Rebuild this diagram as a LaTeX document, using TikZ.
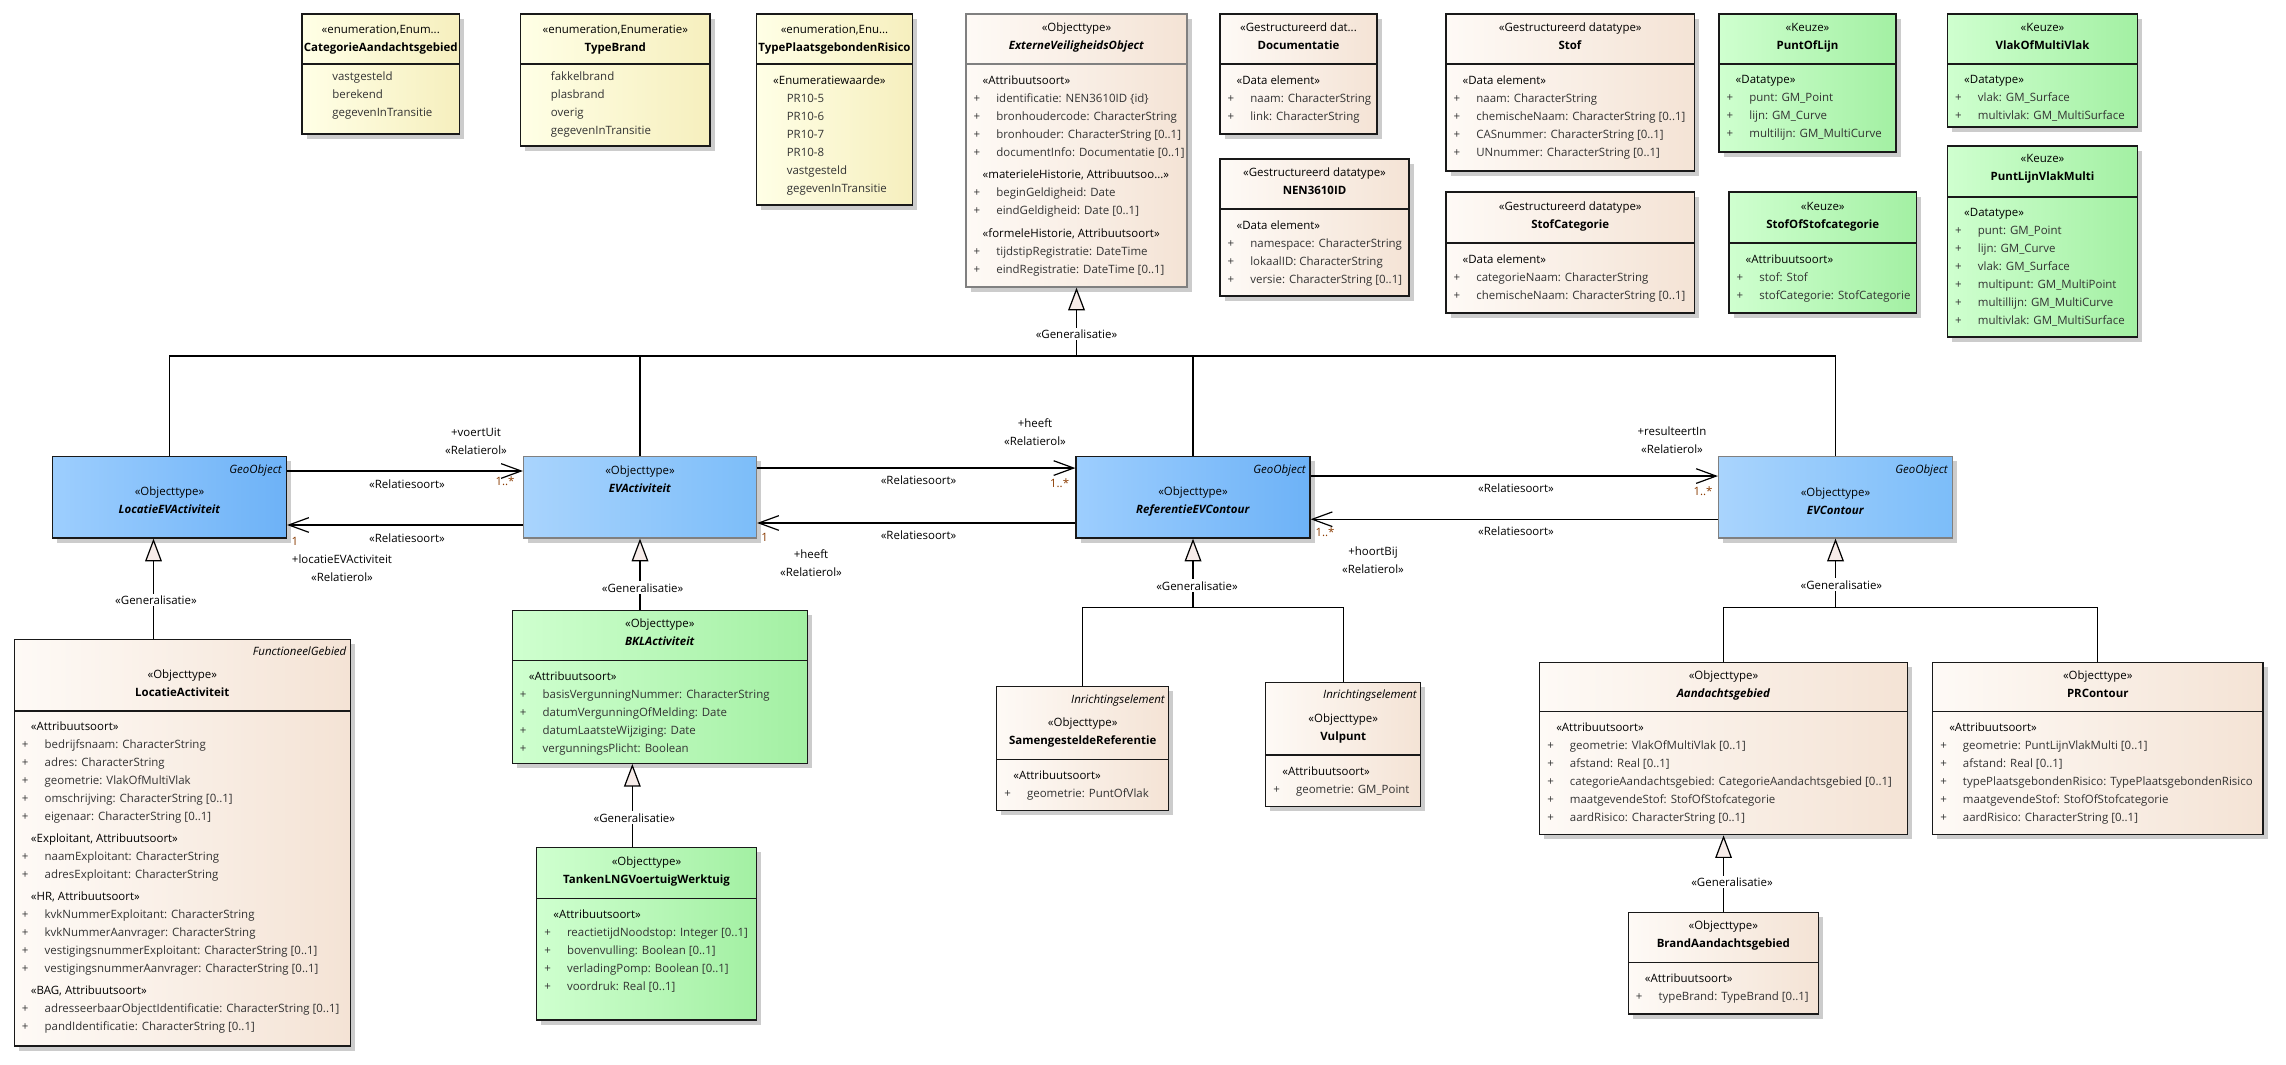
\documentclass[tikz,border=0pt]{standalone}
\usepackage{fontspec}
\setmainfont{Open Sans}
\usetikzlibrary{positioning,arrows.meta,shadows,fit}

\definecolor{creamL}{HTML}{FEFAF6}
\definecolor{creamR}{HTML}{F4E3D5}
\definecolor{enumL}{HTML}{FFFFE6}
\definecolor{enumR}{HTML}{F6EFBE}
\definecolor{greenL}{HTML}{CFFFCF}
\definecolor{greenR}{HTML}{A3F0A3}
\definecolor{geoL}{HTML}{9DCEFE}
\definecolor{geoR}{HTML}{6DB2F7}
\definecolor{abstrL}{HTML}{A9D4FD}
\definecolor{abstrR}{HTML}{7CBDF9}
\definecolor{trifill}{HTML}{F7ECE9}
\definecolor{multcol}{HTML}{8A3B00}

\newcommand{\umlfont}{\fontsize{8.6}{13.5}\selectfont}
\newcommand{\firstline}{\rule{0pt}{9pt}}
\newcommand{\stt}[1]{\hspace*{6.75pt}\textcolor{black}{«#1»}}
\newcommand{\att}[1]{\makebox[17pt][l]{+}#1}
\newcommand{\lit}[1]{\hspace*{17pt}#1}

\begin{document}
\begin{tikzpicture}[x=0.75pt, y=-0.75pt,
    classbox/.style={draw=black!90, line width=0.9pt, inner sep=0pt,
                     general shadow={fill=black!20, shadow xshift=3.5pt, shadow yshift=-3.5pt}},
    cream/.style={classbox, left color=creamL, right color=creamR},
    creamgray/.style={cream, draw=black!50},
    enumbox/.style={classbox, left color=enumL, right color=enumR},
    keuze/.style={classbox, left color=greenL, right color=greenR},
    geobox/.style={classbox, left color=geoL, right color=geoR},
    abstrbox/.style={classbox, draw=black!50, left color=abstrL, right color=abstrR},
    sep/.style={line width=0.9pt, draw=black!90},
    sepgray/.style={line width=0.9pt, draw=black!50},
    head/.style={anchor=north, yshift=9pt, align=center, inner sep=0pt, font=\umlfont,
                 execute at begin node=\firstline},
    body/.style={anchor=north west, yshift=9pt, align=left, inner sep=0pt, font=\umlfont,
                 text=black!80, execute at begin node=\firstline},
    tag/.style={anchor=base east, inner sep=0pt, font=\umlfont\itshape},
    lbl/.style={anchor=north, yshift=9pt, align=center, inner sep=0pt, font=\umlfont,
                execute at begin node=\firstline},
    mult/.style={lbl, text=multcol},
    genlbl/.style={fill=white, inner sep=1.5pt, font=\umlfont},
    conn/.style={line width=0.9pt},
    assoc/.style={line width=0.9pt, -{Straight Barb[length=15pt,width=11pt]}},
    gen/.style={line width=0.9pt, -{Triangle[length=17pt,width=12.5pt,fill=trifill]}}
]
\fill[white] (0,0) rectangle (2286,1064);
\useasboundingbox (0,0) rectangle (2286,1064);

% enumeraties
\node[enumbox, fit={(302,14) (459.5,134)}] (catag) {};
\draw[sep] (302,64) -- (459.5,64);
\node[head] (catag-h) at (380.75,36.5) {«enumeration,Enum...\\\textbf{CategorieAandachtsgebied}};
\node[body] (catag-b) at (309.4,83.3) {\lit{vastgesteld}\\\lit{berekend}\\\lit{gegevenInTransitie}};

\node[enumbox, fit={(520.6,14) (710,146)}] (tbrand) {};
\draw[sep] (520.6,64) -- (710,64);
\node[head] (tbrand-h) at (615.3,36.5) {«enumeration,Enumeratie»\\\textbf{TypeBrand}};
\node[body] (tbrand-b) at (528,83.3) {\lit{fakkelbrand}\\\lit{plasbrand}\\\lit{overig}\\\lit{gegevenInTransitie}};

\node[enumbox, fit={(756.5,14) (912.5,205)}] (tpr) {};
\draw[sep] (756.5,64) -- (912.5,64);
\node[head] (tpr-h) at (834.5,36.5) {«enumeration,Enu...\\\textbf{TypePlaatsgebondenRisico}};
\node[body] (tpr-b) at (763.9,87.3) {\stt{Enumeratiewaarde}\\\lit{PR10-5}\\\lit{PR10-6}\\\lit{PR10-7}\\\lit{PR10-8}\\\lit{vastgesteld}\\\lit{gegevenInTransitie}};

% superklasse en datatypes
\node[creamgray, fit={(966,14) (1187,287)}] (evo) {};
\draw[sepgray] (966,64) -- (1187,64);
\node[head] (evo-h) at (1076.5,34.7) {«Objecttype»\\\textbf{\textit{ExterneVeiligheidsObject}}};
\node[body] (evo-b) at (973.4,87.3) {\stt{Attribuutsoort}\\
  \att{identificatie: NEN3610ID \{id\}}\\
  \att{bronhoudercode: CharacterString}\\
  \att{bronhouder: CharacterString [0..1]}\\
  \att{documentInfo: Documentatie [0..1]}\\[3.4pt]
  \stt{materieleHistorie, Attribuutsoo...}\\
  \att{beginGeldigheid: Date}\\
  \att{eindGeldigheid: Date [0..1]}\\[3.4pt]
  \stt{formeleHistorie, Attribuutsoort}\\
  \att{tijdstipRegistratie: DateTime}\\
  \att{eindRegistratie: DateTime [0..1]}};

\node[cream, fit={(1220,14) (1377,134)}] (docu) {};
\draw[sep] (1220,64) -- (1377,64);
\node[head] (docu-h) at (1298.5,34.7) {«Gestructureerd dat...\\\textbf{Documentatie}};
\node[body] (docu-b) at (1227.4,87.3) {\stt{Data element}\\\att{naam: CharacterString}\\\att{link: CharacterString}};

\node[cream, fit={(1220,159) (1409,296)}] (nen) {};
\draw[sep] (1220,209) -- (1409,209);
\node[head] (nen-h) at (1314.5,179.3) {«Gestructureerd datatype»\\\textbf{NEN3610ID}};
\node[body] (nen-b) at (1227.4,232.7) {\stt{Data element}\\\att{namespace: CharacterString}\\\att{lokaalID: CharacterString}\\\att{versie: CharacterString [0..1]}};

\node[cream, fit={(1446,14) (1694.5,171)}] (stof) {};
\draw[sep] (1446,64) -- (1694.5,64);
\node[head] (stof-h) at (1570.25,34.7) {«Gestructureerd datatype»\\\textbf{Stof}};
\node[body] (stof-b) at (1453.4,87.3) {\stt{Data element}\\\att{naam: CharacterString}\\\att{chemischeNaam: CharacterString [0..1]}\\\att{CASnummer: CharacterString [0..1]}\\\att{UNnummer: CharacterString [0..1]}};

\node[cream, fit={(1446,192) (1694.5,313)}] (stofcat) {};
\draw[sep] (1446,243) -- (1694.5,243);
\node[head] (stofcat-h) at (1570.25,213.7) {«Gestructureerd datatype»\\\textbf{StofCategorie}};
\node[body] (stofcat-b) at (1453.4,266.7) {\stt{Data element}\\\att{categorieNaam: CharacterString}\\\att{chemischeNaam: CharacterString [0..1]}};

\node[keuze, fit={(1719,14) (1896,152)}] (pol) {};
\draw[sep] (1719,64) -- (1896,64);
\node[head] (pol-h) at (1807.5,34.7) {«Keuze»\\\textbf{PuntOfLijn}};
\node[body] (pol-b) at (1726.4,87.3) {\stt{Datatype}\\\att{punt: GM\_Point}\\\att{lijn: GM\_Curve}\\\att{multilijn: GM\_MultiCurve}};

\node[keuze, fit={(1729,192) (1916.5,313)}] (sos) {};
\draw[sep] (1729,243) -- (1916.5,243);
\node[head] (sos-h) at (1822.75,213.7) {«Keuze»\\\textbf{StofOfStofcategorie}};
\node[body] (sos-b) at (1736.4,266.7) {\stt{Attribuutsoort}\\\att{stof: Stof}\\\att{stofCategorie: StofCategorie}};

\node[keuze, fit={(1947.5,14) (2137.5,127)}] (vmv) {};
\draw[sep] (1947.5,64) -- (2137.5,64);
\node[head] (vmv-h) at (2042.5,34.7) {«Keuze»\\\textbf{VlakOfMultiVlak}};
\node[body] (vmv-b) at (1954.9,87.3) {\stt{Datatype}\\\att{vlak: GM\_Surface}\\\att{multivlak: GM\_MultiSurface}};

\node[keuze, fit={(1947.5,146) (2137.5,337)}] (plvm) {};
\draw[sep] (1947.5,197) -- (2137.5,197);
\node[head] (plvm-h) at (2042.5,166.3) {«Keuze»\\\textbf{PuntLijnVlakMulti}};
\node[body] (plvm-b) at (1954.9,219.7) {\stt{Datatype}\\\att{punt: GM\_Point}\\\att{lijn: GM\_Curve}\\\att{vlak: GM\_Surface}\\\att{multipunt: GM\_MultiPoint}\\\att{multillijn: GM\_MultiCurve}\\\att{multivlak: GM\_MultiSurface}};

% middelste rij
\node[geobox, fit={(52.5,456.5) (286.5,538)}] (locev) {};
\node[tag] (locev-t) at (282,473) {GeoObject};
\node[head] (locev-h) at (169.5,499) {«Objecttype»\\\textbf{\textit{LocatieEVActiviteit}}};

\node[abstrbox, fit={(523.5,456.5) (756.5,538)}] (evact) {};
\node[head] (evact-h) at (640,478) {«Objecttype»\\\textbf{\textit{EVActiviteit}}};

\node[geobox, fit={(1076,456.5) (1310,538)}] (refev) {};
\node[tag] (refev-t) at (1306,473) {GeoObject};
\node[head] (refev-h) at (1193,499) {«Objecttype»\\\textbf{\textit{ReferentieEVContour}}};

\node[abstrbox, fit={(1718.5,456.5) (1952.5,538)}] (evc) {};
\node[tag] (evc-t) at (1948,473) {GeoObject};
\node[head] (evc-h) at (1835.5,499.5) {«Objecttype»\\\textbf{\textit{EVContour}}};

% onderste rij
\node[cream, fit={(14.3,639.3) (350.3,1046)}] (locact) {};
\draw[sep] (14.3,711) -- (350.3,711);
\node[tag] (locact-t) at (346.5,655) {FunctioneelGebied};
\node[head] (locact-h) at (182.3,681.7) {«Objecttype»\\\textbf{LocatieActiviteit}};
\node[body] (locact-b) at (21.7,734) {\stt{Attribuutsoort}\\
  \att{bedrijfsnaam: CharacterString}\\
  \att{adres: CharacterString}\\
  \att{geometrie: VlakOfMultiVlak}\\
  \att{omschrijving: CharacterString [0..1]}\\
  \att{eigenaar: CharacterString [0..1]}\\[3pt]
  \stt{Exploitant, Attribuutsoort}\\
  \att{naamExploitant: CharacterString}\\
  \att{adresExploitant: CharacterString}\\[3pt]
  \stt{HR, Attribuutsoort}\\
  \att{kvkNummerExploitant: CharacterString}\\
  \att{kvkNummerAanvrager: CharacterString}\\
  \att{vestigingsnummerExploitant: CharacterString [0..1]}\\
  \att{vestigingsnummerAanvrager: CharacterString [0..1]}\\[3pt]
  \stt{BAG, Attribuutsoort}\\
  \att{adresseerbaarObjectIdentificatie: CharacterString [0..1]}\\
  \att{pandIdentificatie: CharacterString [0..1]}};

\node[keuze, fit={(512.3,610.3) (807.3,763.3)}] (bkl) {};
\draw[sep] (512.3,660.7) -- (807.3,660.7);
\node[head] (bkl-h) at (659.8,630.7) {«Objecttype»\\\textbf{\textit{BKLActiviteit}}};
\node[body] (bkl-b) at (519.7,683.3) {\stt{Attribuutsoort}\\\att{basisVergunningNummer: CharacterString}\\\att{datumVergunningOfMelding: Date}\\\att{datumLaatsteWijziging: Date}\\\att{vergunningsPlicht: Boolean}};

\node[keuze, fit={(536.7,847.7) (756.3,1020)}] (tank) {};
\draw[sep] (536.7,898.3) -- (756.3,898.3);
\node[head] (tank-h) at (646.5,868.3) {«Objecttype»\\\textbf{TankenLNGVoertuigWerktuig}};
\node[body] (tank-b) at (544.1,921.7) {\stt{Attribuutsoort}\\\att{reactietijdNoodstop: Integer [0..1]}\\\att{bovenvulling: Boolean [0..1]}\\\att{verladingPomp: Boolean [0..1]}\\\att{voordruk: Real [0..1]}};

\node[cream, fit={(996.7,686.7) (1168.7,810.7)}] (samref) {};
\draw[sep] (996.7,759.3) -- (1168.7,759.3);
\node[tag] (samref-t) at (1165,703) {Inrichtingselement};
\node[head] (samref-h) at (1082.7,729.7) {«Objecttype»\\\textbf{SamengesteldeReferentie}};
\node[body] (samref-b) at (1004.1,783) {\stt{Attribuutsoort}\\\att{geometrie: PuntOfVlak}};

\node[cream, fit={(1265.7,682.3) (1420.7,806.7)}] (vulp) {};
\draw[sep] (1265.7,755) -- (1420.7,755);
\node[tag] (vulp-t) at (1417,698.7) {Inrichtingselement};
\node[head] (vulp-h) at (1343.2,725.3) {«Objecttype»\\\textbf{Vulpunt}};
\node[body] (vulp-b) at (1273.1,778.3) {\stt{Attribuutsoort}\\\att{geometrie: GM\_Point}};

\node[cream, fit={(1539.6,662.7) (1907.5,834.7)}] (aand) {};
\draw[sep] (1539.6,711.7) -- (1907.5,711.7);
\node[head] (aand-h) at (1723.5,683) {«Objecttype»\\\textbf{\textit{Aandachtsgebied}}};
\node[body] (aand-b) at (1547,734.7) {\stt{Attribuutsoort}\\\att{geometrie: VlakOfMultiVlak [0..1]}\\\att{afstand: Real [0..1]}\\\att{categorieAandachtsgebied: CategorieAandachtsgebied [0..1]}\\\att{maatgevendeStof: StofOfStofcategorie}\\\att{aardRisico: CharacterString [0..1]}};

\node[cream, fit={(1932.6,662.7) (2262.9,834.7)}] (prc) {};
\draw[sep] (1932.6,711.7) -- (2262.9,711.7);
\node[head] (prc-h) at (2097.75,683) {«Objecttype»\\\textbf{PRContour}};
\node[body] (prc-b) at (1940,734.7) {\stt{Attribuutsoort}\\\att{geometrie: PuntLijnVlakMulti [0..1]}\\\att{afstand: Real [0..1]}\\\att{typePlaatsgebondenRisico: TypePlaatsgebondenRisico}\\\att{maatgevendeStof: StofOfStofcategorie}\\\att{aardRisico: CharacterString [0..1]}};

\node[cream, fit={(1628.3,912.3) (1818.3,1014)}] (brand) {};
\draw[sep] (1628.3,962.3) -- (1818.3,962.3);
\node[head] (brand-h) at (1723.3,932.7) {«Objecttype»\\\textbf{BrandAandachtsgebied}};
\node[body] (brand-b) at (1635.7,985.7) {\stt{Attribuutsoort}\\\att{typeBrand: TypeBrand [0..1]}};

% generalisaties
\coordinate (evoj) at (1076.5,356);
\draw[gen] (evoj) -- (evo.south);
\draw[conn] (locev.north) |- (evc.north |- evoj) -- (evc.north);
\draw[conn] (evact.north) -- (evact.north |- evoj);
\draw[conn] (refev.north) -- (refev.north |- evoj);
\node[genlbl] (g-evo) at (1076.5,334) {«Generalisatie»};

\draw[gen] ([xshift=-12pt]locev.south |- locact.north) -- ([xshift=-12pt]locev.south);
\node[genlbl] (g-locact) at (156,600) {«Generalisatie»};
\draw[gen] (evact.south |- bkl.north) -- (evact.south);
\node[genlbl] (g-bkl) at (642.6,587.7) {«Generalisatie»};
\draw[gen] ([xshift=-20.6pt]bkl.south |- tank.north) -- ([xshift=-20.6pt]bkl.south);
\node[genlbl] (g-tank) at (634.3,817.7) {«Generalisatie»};

\coordinate (refj) at (1193,607.3);
\draw[gen] (refj) -- (refev.south);
\draw[conn] (samref.north) |- (refj) -| (vulp.north);
\node[genlbl] (g-ref) at (1197,585.7) {«Generalisatie»};

\coordinate (evcj) at (1835.5,607.3);
\draw[gen] (evcj) -- (evc.south);
\draw[conn] (aand.north) |- (evcj) -| (prc.north);
\node[genlbl] (g-evc) at (1841.4,584.7) {«Generalisatie»};

\draw[gen] (aand.south |- brand.north) -- (aand.south);
\node[genlbl] (g-brand) at (1732,882) {«Generalisatie»};

% relaties
\draw[assoc] ([yshift=19.7pt]locev.east) -- ([yshift=19.7pt]evact.west);
\node[lbl] (r1-rol) at (476,440) {+voertUit\\«Relatierol»};
\node[lbl] (r1-soort) at (407,488) {«Relatiesoort»};
\node[mult] (r1-mult) at (505,485) {1..*};

\draw[assoc] ([yshift=-20.8pt]evact.west) -- ([yshift=-20.8pt]locev.east);
\node[lbl] (r2-soort) at (407,542) {«Relatiesoort»};
\node[mult] (r2-mult) at (295,545) {1};
\node[lbl] (r2-rol) at (342,567) {+locatieEVActiviteit\\«Relatierol»};

\draw[assoc] ([yshift=21.9pt]evact.east) -- ([yshift=21.9pt]refev.west);
\node[lbl] (r3-rol) at (1035,430.7) {+heeft\\«Relatierol»};
\node[lbl] (r3-soort) at (918.6,484.7) {«Relatiesoort»};
\node[mult] (r3-mult) at (1059.6,487) {1..*};

\draw[assoc] ([yshift=-19.3pt]refev.west) -- ([yshift=-19.3pt]evact.east);
\node[lbl] (r4-soort) at (918.6,539.7) {«Relatiesoort»};
\node[mult] (r4-mult) at (764.6,541.7) {1};
\node[lbl] (r4-rol) at (811,561.7) {+heeft\\«Relatierol»};

\draw[assoc] ([yshift=15.9pt]refev.east) -- ([yshift=15.9pt]evc.west);
\node[lbl] (r5-rol) at (1672,439) {+resulteertIn\\«Relatierol»};
\node[lbl] (r5-soort) at (1516,492.7) {«Relatiesoort»};
\node[mult] (r5-mult) at (1703,495) {1..*};

\draw[assoc] ([yshift=-16.5pt]evc.west) -- ([yshift=-16.5pt]refev.east);
\node[lbl] (r6-soort) at (1516,535.3) {«Relatiesoort»};
\node[mult] (r6-mult) at (1325,536.7) {1..*};
\node[lbl] (r6-rol) at (1373,559) {+hoortBij\\«Relatierol»};
\end{tikzpicture}
\end{document}
